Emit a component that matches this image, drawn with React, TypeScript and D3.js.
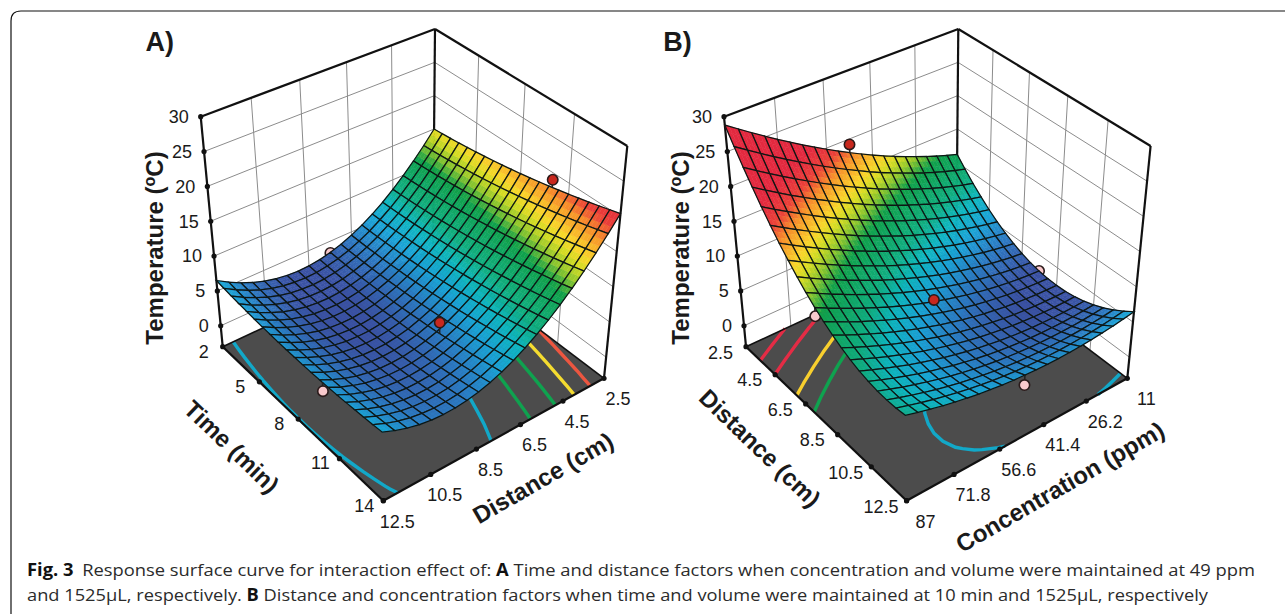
import React from "react";
import * as d3 from "d3";

// Axis levels of the two response surfaces (mesh nodes)
const timeLevels = [2, 2.6, 3.2, 3.8, 4.4, 5, 5.6, 6.2, 6.8, 7.4, 8, 8.6, 9.2, 9.8, 10.4, 11, 11.6, 12.2, 12.8, 13.4, 14];
const distanceLevelsA = [12.5, 12, 11.5, 11, 10.5, 10, 9.5, 9, 8.5, 8, 7.5, 7, 6.5, 6, 5.5, 5, 4.5, 4, 3.5, 3, 2.5];
const distanceLevelsB = [2.5, 3, 3.5, 4, 4.5, 5, 5.5, 6, 6.5, 7, 7.5, 8, 8.5, 9, 9.5, 10, 10.5, 11, 11.5, 12, 12.5];
const concentrationLevels = [11, 14.8, 18.6, 22.4, 26.2, 30, 33.8, 37.6, 41.4, 45.2, 49, 52.8, 56.6, 60.4, 64.2, 68, 71.8, 75.6, 79.4, 83.2, 87];

// Temperature: one row per time level, one column per distance level
const temperatureA = [
  [6.5, 5.52, 4.7, 4.01, 3.48, 3.09, 2.86, 2.76, 2.82, 3.02, 3.38, 3.87, 4.52, 5.31, 6.26, 7.34, 8.58, 9.96, 11.5, 13.17, 15],
  [6.34, 5.38, 4.57, 3.89, 3.38, 3.0, 2.79, 2.7, 2.77, 2.99, 3.36, 3.86, 4.53, 5.33, 6.3, 7.39, 8.64, 10.04, 11.59, 13.27, 15.12],
  [6.2, 5.25, 4.46, 3.79, 3.29, 2.93, 2.73, 2.65, 2.74, 2.97, 3.36, 3.87, 4.55, 5.37, 6.35, 7.45, 8.72, 10.13, 11.7, 13.39, 15.25],
  [6.08, 5.14, 4.36, 3.71, 3.22, 2.87, 2.68, 2.63, 2.73, 2.97, 3.37, 3.9, 4.59, 5.42, 6.41, 7.54, 8.82, 10.24, 11.82, 13.53, 15.4],
  [5.97, 5.04, 4.28, 3.64, 3.17, 2.83, 2.66, 2.61, 2.73, 2.98, 3.4, 3.94, 4.65, 5.49, 6.5, 7.63, 8.93, 10.36, 11.96, 13.68, 15.57],
  [5.87, 4.96, 4.21, 3.59, 3.13, 2.81, 2.65, 2.62, 2.74, 3.01, 3.44, 4.0, 4.72, 5.58, 6.6, 7.75, 9.06, 10.5, 12.11, 13.85, 15.75],
  [5.8, 4.9, 4.16, 3.56, 3.11, 2.8, 2.65, 2.64, 2.78, 3.06, 3.5, 4.08, 4.81, 5.68, 6.71, 7.88, 9.2, 10.66, 12.28, 14.04, 15.95],
  [5.74, 4.85, 4.13, 3.54, 3.1, 2.81, 2.67, 2.67, 2.83, 3.12, 3.58, 4.17, 4.91, 5.8, 6.84, 8.02, 9.36, 10.83, 12.47, 14.24, 16.16],
  [5.69, 4.82, 4.11, 3.53, 3.11, 2.83, 2.71, 2.72, 2.89, 3.2, 3.67, 4.27, 5.03, 5.93, 6.99, 8.18, 9.53, 11.02, 12.67, 14.45, 16.39],
  [5.66, 4.81, 4.11, 3.54, 3.14, 2.87, 2.77, 2.79, 2.97, 3.3, 3.78, 4.39, 5.17, 6.08, 7.16, 8.36, 9.72, 11.23, 12.89, 14.68, 16.64],
  [5.65, 4.81, 4.12, 3.57, 3.18, 2.93, 2.83, 2.87, 3.07, 3.41, 3.91, 4.53, 5.32, 6.25, 7.34, 8.55, 9.93, 11.45, 13.13, 14.93, 16.9],
  [5.65, 4.82, 4.16, 3.62, 3.24, 3.0, 2.92, 2.97, 3.18, 3.53, 4.05, 4.69, 5.49, 6.43, 7.53, 8.76, 10.15, 11.68, 13.38, 15.2, 17.18],
  [5.67, 4.86, 4.2, 3.68, 3.31, 3.09, 3.02, 3.09, 3.31, 3.68, 4.2, 4.86, 5.67, 6.63, 7.74, 8.99, 10.39, 11.94, 13.64, 15.48, 17.47],
  [5.71, 4.91, 4.26, 3.75, 3.4, 3.19, 3.14, 3.22, 3.46, 3.84, 4.37, 5.04, 5.87, 6.84, 7.97, 9.23, 10.65, 12.21, 13.92, 15.77, 17.78],
  [5.76, 4.97, 4.34, 3.84, 3.51, 3.31, 3.27, 3.37, 3.62, 4.01, 4.56, 5.25, 6.09, 7.07, 8.21, 9.49, 10.92, 12.49, 14.22, 16.09, 18.11],
  [5.82, 5.05, 4.44, 3.95, 3.63, 3.45, 3.42, 3.53, 3.79, 4.2, 4.77, 5.46, 6.32, 7.32, 8.47, 9.76, 11.21, 12.79, 14.54, 16.41, 18.45],
  [5.91, 5.15, 4.55, 4.08, 3.77, 3.6, 3.59, 3.71, 3.99, 4.41, 4.99, 5.7, 6.57, 7.58, 8.75, 10.05, 11.51, 13.11, 14.87, 16.76, 18.81],
  [6.01, 5.26, 4.67, 4.22, 3.92, 3.77, 3.77, 3.9, 4.2, 4.63, 5.22, 5.95, 6.83, 7.86, 9.04, 10.35, 11.83, 13.44, 15.21, 17.12, 19.18],
  [6.12, 5.39, 4.82, 4.37, 4.09, 3.95, 3.97, 4.11, 4.42, 4.87, 5.48, 6.21, 7.11, 8.15, 9.35, 10.67, 12.16, 13.79, 15.58, 17.49, 19.57],
  [6.25, 5.53, 4.98, 4.55, 4.28, 4.15, 4.18, 4.34, 4.66, 5.12, 5.75, 6.5, 7.41, 8.46, 9.67, 11.01, 12.51, 14.16, 15.96, 17.89, 19.98],
  [6.4, 5.7, 5.15, 4.74, 4.48, 4.37, 4.41, 4.59, 4.92, 5.4, 6.03, 6.8, 7.72, 8.79, 10.01, 11.37, 12.88, 14.54, 16.35, 18.3, 20.4],
];

// Temperature: one row per distance level, one column per concentration level
const temperatureB = [
  [11.2, 11.7, 12.24, 12.82, 13.44, 14.1, 14.8, 15.54, 16.32, 17.14, 18, 18.9, 19.84, 20.82, 21.84, 22.9, 24, 25.14, 26.32, 27.54, 28.8],
  [9.8, 10.26, 10.76, 11.3, 11.89, 12.51, 13.17, 13.87, 14.61, 15.39, 16.22, 17.08, 17.98, 18.92, 19.9, 20.92, 21.99, 23.09, 24.23, 25.41, 26.63],
  [8.52, 8.94, 9.41, 9.91, 10.45, 11.04, 11.66, 12.32, 13.03, 13.77, 14.55, 15.38, 16.24, 17.14, 18.08, 19.07, 20.09, 21.15, 22.26, 23.4, 24.58],
  [7.37, 7.75, 8.18, 8.64, 9.15, 9.69, 10.28, 10.9, 11.57, 12.27, 13.02, 13.8, 14.63, 15.49, 16.4, 17.34, 18.33, 19.35, 20.42, 21.52, 22.67],
  [6.33, 6.68, 7.06, 7.49, 7.96, 8.46, 9.01, 9.59, 10.22, 10.89, 11.59, 12.34, 13.13, 13.95, 14.82, 15.73, 16.67, 17.66, 18.69, 19.75, 20.86],
  [5.42, 5.73, 6.08, 6.46, 6.89, 7.36, 7.87, 8.42, 9.0, 9.63, 10.3, 11.01, 11.76, 12.54, 13.37, 14.24, 15.15, 16.1, 17.08, 18.11, 19.18],
  [4.63, 4.9, 5.21, 5.56, 5.95, 6.38, 6.85, 7.36, 7.91, 8.5, 9.13, 9.8, 10.51, 11.25, 12.04, 12.87, 13.74, 14.65, 15.6, 16.59, 17.62],
  [3.97, 4.2, 4.47, 4.78, 5.13, 5.53, 5.96, 6.43, 6.94, 7.49, 8.08, 8.71, 9.38, 10.1, 10.85, 11.64, 12.47, 13.34, 14.25, 15.2, 16.19],
  [3.42, 3.61, 3.85, 4.12, 4.43, 4.78, 5.18, 5.61, 6.08, 6.6, 7.15, 7.74, 8.37, 9.05, 9.76, 10.51, 11.3, 12.14, 13.01, 13.92, 14.88],
  [3.0, 3.15, 3.35, 3.58, 3.86, 4.17, 4.53, 4.92, 5.36, 5.83, 6.34, 6.9, 7.49, 8.13, 8.8, 9.52, 10.27, 11.06, 11.9, 12.77, 13.69],
  [2.7, 2.82, 2.97, 3.17, 3.4, 3.68, 4.0, 4.35, 4.75, 5.18, 5.66, 6.18, 6.73, 7.33, 7.96, 8.64, 9.36, 10.11, 10.91, 11.74, 12.62],
  [2.53, 2.61, 2.73, 2.88, 3.08, 3.32, 3.6, 3.91, 4.27, 4.67, 5.11, 5.58, 6.1, 6.66, 7.26, 7.89, 8.57, 9.29, 10.05, 10.84, 11.68],
  [2.48, 2.52, 2.6, 2.72, 2.88, 3.08, 3.32, 3.59, 3.91, 4.27, 4.67, 5.11, 5.59, 6.11, 6.67, 7.27, 7.91, 8.59, 9.31, 10.06, 10.86],
  [2.54, 2.54, 2.58, 2.66, 2.78, 2.94, 3.14, 3.39, 3.67, 3.99, 4.35, 4.75, 5.19, 5.67, 6.19, 6.75, 7.35, 7.99, 8.67, 9.4, 10.16],
  [2.74, 2.7, 2.7, 2.75, 2.83, 2.95, 3.11, 3.32, 3.56, 3.84, 4.16, 4.53, 4.93, 5.37, 5.85, 6.38, 6.94, 7.54, 8.18, 8.87, 9.59],
  [3.05, 2.97, 2.94, 2.94, 2.99, 3.07, 3.19, 3.36, 3.56, 3.81, 4.09, 4.41, 4.78, 5.18, 5.63, 6.11, 6.63, 7.2, 7.8, 8.45, 9.13],
  [3.49, 3.38, 3.3, 3.27, 3.27, 3.32, 3.4, 3.53, 3.69, 3.9, 4.15, 4.43, 4.76, 5.12, 5.53, 5.97, 6.46, 6.99, 7.55, 8.16, 8.8],
  [4.05, 3.9, 3.78, 3.71, 3.68, 3.69, 3.73, 3.82, 3.95, 4.11, 4.32, 4.57, 4.86, 5.18, 5.55, 5.96, 6.41, 6.89, 7.42, 7.99, 8.59],
  [4.73, 4.54, 4.39, 4.28, 4.21, 4.17, 4.18, 4.23, 4.32, 4.45, 4.62, 4.83, 5.08, 5.36, 5.69, 6.06, 6.47, 6.92, 7.41, 7.94, 8.51],
  [5.53, 5.3, 5.11, 4.96, 4.85, 4.78, 4.75, 4.76, 4.81, 4.9, 5.03, 5.2, 5.41, 5.67, 5.96, 6.29, 6.66, 7.07, 7.52, 8.01, 8.54],
  [6.46, 6.19, 5.96, 5.78, 5.63, 5.52, 5.45, 5.42, 5.44, 5.49, 5.58, 5.71, 5.88, 6.1, 6.35, 6.64, 6.97, 7.34, 7.76, 8.21, 8.7],
];

// Design points: [row value, column value, temperature]
const pointsAboveA = [[10, 2.5, 19], [10, 7.5, 6]];
const pointsBelowA = [[10, 12.5, 4.5], [2, 7.5, 3.3]];
const pointsAboveB = [[2.5, 49, 19.2], [7.5, 49, 5.9]];
const pointsBelowB = [[12.5, 49, 4.2], [7.5, 87, 11.4], [7.5, 11, 2.7]];

// Floor contour levels
const contourLevelsA = [5.6, 8.7, 11.8, 14.7, 17.6];
const contourColorsA = ["#12a8c8", "#0fa24f", "#0fa24f", "#f5dc30", "#ec5640"];
const contourLevelsB = [5.8, 13.6, 16.4, 20.9, 24.6];
const contourColorsB = ["#12a8c8", "#0fa24f", "#f8cf2e", "#e42c45", "#e42c45"];

// Tick labels
const temperatureTicks = [0, 5, 10, 15, 20, 25, 30];
const timeTicks = [2, 5, 8, 11, 14];
const distanceTicks = [2.5, 4.5, 6.5, 8.5, 10.5, 12.5];
const concentrationTicks = [11, 26.2, 41.4, 56.6, 71.8, 87];

// Colour ramp of the surface
const rampValues = [2.8, 4.5, 6, 7.5, 9, 12, 13.3, 14.5, 15.5, 17.5, 19, 21];
const rampColors = ["#3a52a4", "#2b7cc4", "#1ba3d7", "#0fb6c0", "#10ae80", "#10a04a", "#8cc52e", "#d5dc24", "#f9d62a", "#f7922a", "#ea4038", "#e3293f"];

// Camera: floor and top of the box, corners in order left, front, right, back
const floorCorners = [[222.7, 346.7], [383.3, 500.7], [604, 378.3], [433, 249]];
const topCorners = [[200.7, 116.7], [379.7, 260], [627.3, 146], [435, 29]];

const FONT = "'Liberation Sans', Arial, sans-serif";
const SUB = 3; // colour steps inside a mesh cell

const squareToQuad = (q) => {
  const [[x0, y0], [x1, y1], [x2, y2], [x3, y3]] = q;
  const dx3 = x0 - x1 + x2 - x3;
  const dy3 = y0 - y1 + y2 - y3;
  const dx1 = x1 - x2;
  const dx2 = x3 - x2;
  const dy1 = y1 - y2;
  const dy2 = y3 - y2;
  const den = dx1 * dy2 - dx2 * dy1;
  const g = (dx3 * dy2 - dx2 * dy3) / den;
  const h = (dx1 * dy3 - dx3 * dy1) / den;
  const a = x1 - x0 + g * x1;
  const b = x3 - x0 + h * x3;
  const d = y1 - y0 + g * y1;
  const e = y3 - y0 + h * y3;
  return (u, v) => {
    const w = g * u + h * v + 1;
    return [(a * u + b * v + x0) / w, (d * u + e * v + y0) / w];
  };
};

const floorMap = squareToQuad(floorCorners);
const topMap = squareToQuad(topCorners);
const zScale = d3.scaleLinear().domain([-3, 30]).range([0, 1]);
const colorScale = d3.scaleLinear().domain(rampValues).range(rampColors).clamp(true);
const line = d3.line();
const closed = (pts) => line(pts) + "Z";

// a runs left -> front, b runs left -> back, t is temperature
const project = (a, b, t) => {
  const w = zScale(t);
  const p0 = floorMap(a, b);
  const p1 = topMap(a, b);
  return [p0[0] + (p1[0] - p0[0]) * w, p0[1] + (p1[1] - p0[1]) * w];
};
const FLOOR = zScale.domain()[0];
const TOP = zScale.domain()[1];

const Panel = ({ dx, letter, letterX, rows, cols, values, aScale, bScale, aTicks, bTicks, aTitle, bTitle, aOff, bOff, above, below, levels, levelColors, yTitleX }) => {
  const nR = rows.length;
  const nC = cols.length;
  const rowIdx = d3.scaleLinear().domain([rows[0], rows[nR - 1]]).range([0, nR - 1]);
  const colIdx = d3.scaleLinear().domain([cols[0], cols[nC - 1]]).range([0, nC - 1]);

  const surfaceAt = (rv, cv) => {
    const ri = rowIdx(rv);
    const ci = colIdx(cv);
    const r0 = Math.min(Math.floor(ri), nR - 2);
    const c0 = Math.min(Math.floor(ci), nC - 2);
    const fr = ri - r0;
    const fc = ci - c0;
    return (
      values[r0][c0] * (1 - fr) * (1 - fc) +
      values[r0][c0 + 1] * (1 - fr) * fc +
      values[r0 + 1][c0] * fr * (1 - fc) +
      values[r0 + 1][c0 + 1] * fr * fc
    );
  };

  // Floor contours: d3.contours closes its rings along the border, keep the inner segments only
  const contours = d3.contours().size([nC, nR]).thresholds(levels)(values.flat());
  const contourPaths = contours.flatMap((c, k) => {
    const paths = [];
    c.coordinates.forEach((poly) =>
      poly.forEach((ring) => {
        let run = [];
        const flush = () => {
          if (run.length > 1) paths.push(<path key={`c${k}-${paths.length}`} d={line(run)} fill="none" stroke={levelColors[k]} strokeWidth={3.4} />);
          run = [];
        };
        const inside = ([x, y]) => x >= 0.5 && x <= nC - 0.5 && y >= 0.5 && y <= nR - 0.5;
        ring.forEach((pt) => {
          if (inside(pt)) {
            run.push(project(aScale(rowIdx.invert(pt[1] - 0.5)), bScale(colIdx.invert(pt[0] - 0.5)), FLOOR));
          } else flush();
        });
        flush();
      })
    );
    return paths;
  });

  // Paint list, back corner first
  const paint = [];
  for (let r = 0; r < nR - 1; r++) {
    for (let c = 0; c < nC - 1; c++) {
      const a0 = aScale(rows[r]);
      const a1 = aScale(rows[r + 1]);
      const b0 = bScale(cols[c]);
      const b1 = bScale(cols[c + 1]);
      const z00 = values[r][c];
      const z01 = values[r][c + 1];
      const z10 = values[r + 1][c];
      const z11 = values[r + 1][c + 1];
      const node = (u, v) => {
        const z = z00 * (1 - u) * (1 - v) + z01 * (1 - u) * v + z10 * u * (1 - v) + z11 * u * v;
        return { p: project(a0 + (a1 - a0) * u, b0 + (b1 - b0) * v, z), z };
      };
      const pieces = [];
      for (let i = 0; i < SUB; i++) {
        for (let j = 0; j < SUB; j++) {
          const n = [node(i / SUB, j / SUB), node((i + 1) / SUB, j / SUB), node((i + 1) / SUB, (j + 1) / SUB), node(i / SUB, (j + 1) / SUB)];
          const col = colorScale(d3.mean(n, (d) => d.z));
          pieces.push(<path key={`${i}-${j}`} d={closed(n.map((d) => d.p))} fill={col} stroke={col} strokeWidth={0.5} />);
        }
      }
      const outline = closed([node(0, 0).p, node(1, 0).p, node(1, 1).p, node(0, 1).p]);
      paint.push({
        key: (a0 + a1) / 2 - (b0 + b1) / 2,
        el: (
          <g key={`s${r}-${c}`}>
            {pieces}
            <path d={outline} fill="none" stroke="#0d1614" strokeWidth={1.25} />
          </g>
        ),
      });
    }
  }
  const marker = (pt, fill, id, bump) => {
    const [rv, cv, t] = pt;
    const a = aScale(rv);
    const b = bScale(cv);
    const ball = project(a, b, t);
    const foot = project(a, b, surfaceAt(rv, cv));
    paint.push({
      key: a - b + bump,
      el: (
        <g key={id}>
          <line x1={ball[0]} y1={ball[1]} x2={foot[0]} y2={foot[1]} stroke="#222" strokeWidth={1.6} />
          <circle cx={ball[0]} cy={ball[1]} r={5.2} fill={fill} stroke="#2a1a1a" strokeWidth={1.6} />
        </g>
      ),
    });
  };
  // balls above the surface sit on top of the nearby cells
  above.forEach((p, i) => marker(p, "#c8281e", `up${i}`, 0.25));
  below.forEach((p, i) => marker(p, "#f9c9cc", `dn${i}`, -0.001));
  paint.sort((p, q) => p.key - q.key);

  const wallLine = (from, to, id) => <line key={id} x1={from[0]} y1={from[1]} x2={to[0]} y2={to[1]} stroke="#8c8c8c" strokeWidth={1} />;
  const heavy = (from, to, id, w = 2.2) => <line key={id} x1={from[0]} y1={from[1]} x2={to[0]} y2={to[1]} stroke="#111" strokeWidth={w} />;
  const dot = (p, id) => <circle key={id} cx={p[0]} cy={p[1]} r={2.6} fill="#111" />;

  const aInner = aTicks.slice(1, -1);
  const bInner = bTicks.slice(1, -1);

  return (
    <g transform={`translate(${dx},0)`}>
      {/* walls */}
      {temperatureTicks.slice(0, -1).map((t) => wallLine(project(0, 0, t), project(0, 1, t), `wl${t}`))}
      {temperatureTicks.slice(0, -1).map((t) => wallLine(project(0, 1, t), project(1, 1, t), `wr${t}`))}
      {bInner.map((v) => wallLine(project(0, bScale(v), FLOOR), project(0, bScale(v), TOP), `vl${v}`))}
      {aInner.map((v) => wallLine(project(aScale(v), 1, FLOOR), project(aScale(v), 1, TOP), `vr${v}`))}
      {/* floor */}
      <path d={closed([project(0, 0, FLOOR), project(1, 0, FLOOR), project(1, 1, FLOOR), project(0, 1, FLOOR)])} fill="#4c4c4c" />
      {contourPaths}
      {/* box */}
      {heavy(project(0, 0, FLOOR), project(0, 1, FLOOR), "e1", 1.6)}
      {heavy(project(0, 1, FLOOR), project(1, 1, FLOOR), "e2", 1.6)}
      {heavy(project(0, 0, FLOOR), project(1, 0, FLOOR), "e3")}
      {heavy(project(1, 0, FLOOR), project(1, 1, FLOOR), "e4")}
      {heavy(project(0, 0, FLOOR), project(0, 0, TOP), "e5")}
      {heavy(project(1, 1, FLOOR), project(1, 1, TOP), "e6")}
      {heavy(project(0, 1, FLOOR), project(0, 1, TOP), "e7")}
      {heavy(project(0, 0, TOP), project(0, 1, TOP), "e8")}
      {heavy(project(0, 1, TOP), project(1, 1, TOP), "e9")}
      {/* ticks */}
      {temperatureTicks.map((t) => dot(project(0, 0, t), `zt${t}`))}
      {aTicks.map((v) => dot(project(aScale(v), 0, FLOOR), `at${v}`))}
      {bTicks.map((v) => dot(project(1, bScale(v), FLOOR), `bt${v}`))}
      {/* surface and design points */}
      {paint.map((p) => p.el)}
      {/* labels */}
      <g fontFamily={FONT} fontSize={18} fill="#1a1a1a">
        {temperatureTicks.map((t) => {
          const p = project(0, 0, t);
          return (
            <text key={t} x={p[0] - 12} y={p[1]} dy="0.35em" textAnchor="end">
              {t}
            </text>
          );
        })}
        {aTicks.map((v) => {
          const p = project(aScale(v), 0, FLOOR);
          return (
            <text key={v} x={p[0] + aOff[0]} y={p[1] + aOff[1]} dy="0.35em" textAnchor="middle">
              {v}
            </text>
          );
        })}
        {bTicks.map((v) => {
          const p = project(1, bScale(v), FLOOR);
          return (
            <text key={v} x={p[0] + bOff[0]} y={p[1] + bOff[1]} dy="0.35em" textAnchor="middle">
              {v}
            </text>
          );
        })}
      </g>
      <g fontFamily={FONT} fontWeight="bold" fill="#1a1a1a" fontSize={24}>
        <text transform={`translate(${yTitleX},248) rotate(-90)`} textAnchor="middle" dy="0.35em">
          Temperature (<tspan fontSize={16} dy="-8">o</tspan>
          <tspan dy="8">C)</tspan>
        </text>
        <text transform={`translate(${aTitle.x},${aTitle.y}) rotate(44)`} textAnchor="middle" dy="0.35em">
          {aTitle.text}
        </text>
        <text transform={`translate(${bTitle.x},${bTitle.y}) rotate(-30)`} textAnchor="middle" dy="0.35em">
          {bTitle.text}
        </text>
        <text x={letterX} y={51} fontSize={27}>
          {letter}
        </text>
      </g>
    </g>
  );
};

export default function App() {
  return (
    <svg width={1285} height={615} viewBox="0 0 1285 615" style={{ position: "absolute", left: 0, top: 0, background: "#fff" }}>
      <path d="M11,614 V21 Q11,11 21,11 H1285" fill="none" stroke="#111" strokeWidth={1.2} />
      <Panel
        dx={0}
        letter="A)"
        letterX={145.5}
        rows={timeLevels}
        cols={distanceLevelsA}
        values={temperatureA}
        aScale={d3.scaleLinear().domain([2, 14]).range([0, 1])}
        bScale={d3.scaleLinear().domain([12.5, 2.5]).range([0, 1])}
        aTicks={timeTicks}
        bTicks={[...distanceTicks].reverse()}
        aTitle={{ text: "Time (min)", x: 231.7, y: 446.7 }}
        bTitle={{ text: "Distance (cm)", x: 543, y: 478 }}
        aOff={[-19, 4.5]}
        bOff={[14, 20.5]}
        above={pointsAboveA}
        below={pointsBelowA}
        levels={contourLevelsA}
        levelColors={contourColorsA}
        yTitleX={155}
      />
      <Panel
        dx={523.3}
        letter="B)"
        letterX={140}
        rows={distanceLevelsB}
        cols={concentrationLevels}
        values={temperatureB}
        aScale={d3.scaleLinear().domain([2.5, 12.5]).range([0, 1])}
        bScale={d3.scaleLinear().domain([87, 11]).range([0, 1])}
        aTicks={distanceTicks}
        bTicks={[...concentrationTicks].reverse()}
        aTitle={{ text: "Distance (cm)", x: 236.7, y: 448 }}
        bTitle={{ text: "Concentration (ppm)", x: 536.7, y: 487 }}
        aOff={[-25.5, 5.5]}
        bOff={[19, 20.5]}
        above={pointsAboveB}
        below={pointsBelowB}
        levels={contourLevelsB}
        levelColors={contourColorsB}
        yTitleX={157.7}
      />
      <g fontFamily="'Open Sans', 'Noto Sans', sans-serif" fontSize={17} fill="#2b2b2b">
        <text x={27} y={576} textLength={1228} lengthAdjust="spacingAndGlyphs">
          <tspan fontWeight="bold" fill="#111">Fig. 3</tspan>
          <tspan dx={8}>{"Response surface curve for interaction effect of: "}</tspan>
          <tspan fontWeight="bold" fill="#111">A</tspan>
          {" Time and distance factors when concentration and volume were maintained at 49 ppm"}
        </text>
        <text x={27} y={601} textLength={1181} lengthAdjust="spacingAndGlyphs">
          {"and 1525μL, respectively. "}
          <tspan fontWeight="bold" fill="#111">B</tspan>
          {" Distance and concentration factors when time and volume were maintained at 10 min and 1525μL, respectively"}
        </text>
      </g>
    </svg>
  );
}
